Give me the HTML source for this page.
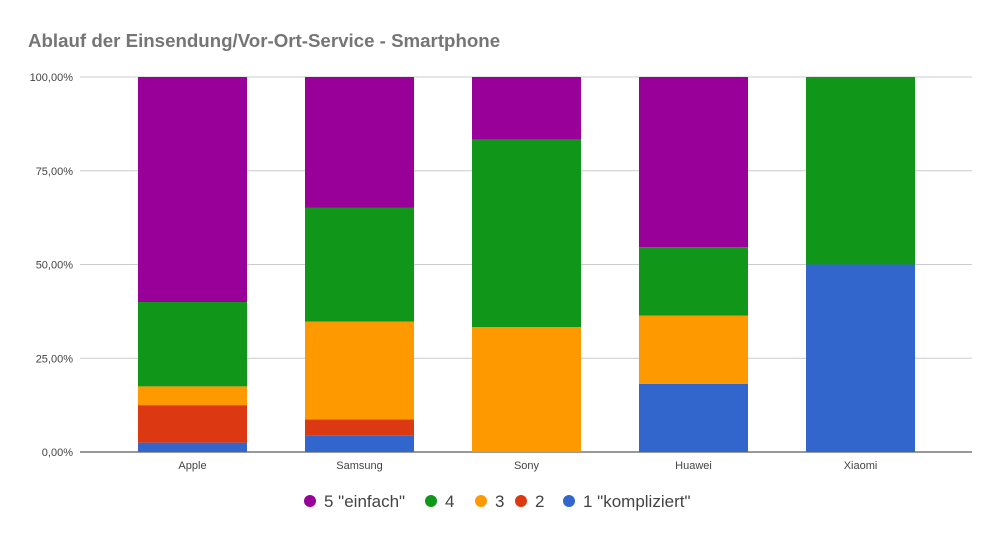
<!DOCTYPE html>
<html><head><meta charset="utf-8"><style>
body{margin:0;background:#fff;font-family:"Liberation Sans",Arial,sans-serif}
</style></head><body>
<svg id="chart" width="1000" height="540">
<rect width="1000" height="540" fill="#fff"/>
<text x="28" y="47" font-size="18.7" font-weight="bold" fill="#757575">Ablauf der Einsendung/Vor-Ort-Service - Smartphone</text>
<g id="grid"></g><g id="bars"></g><g id="xlabels"></g><g id="legend"></g>
</svg>
<script>
const categories=["Apple","Samsung","Sony","Huawei","Xiaomi"];
const s1=[2.5,4.35,0,18.2,50];
const s2=[10,4.35,0,0,0];
const s3=[5,26.1,33.3,18.2,0];
const s4=[22.5,30.4,50,18.2,50];
const s5=[60,34.8,16.7,45.4,0];
const tickValues=[0,25,50,75,100];
const tickLabels=["0,00%","25,00%","50,00%","75,00%","100,00%"];
const seriesNames=['1 "kompliziert"','2','3','4','5 "einfach"'];
const colors=["#3366cc","#dc3912","#ff9900","#109618","#990099"];
const series=[s1,s2,s3,s4,s5];
const NS="http://www.w3.org/2000/svg";
const y0=452,y1=77,xL=80,xR=972,bandStart=109,band=167,bw=109;
const y=v=>y0-(y0-y1)*v/100;
const xc=i=>bandStart+band*i+band/2;
function mk(t,a,p){const e=document.createElementNS(NS,t);for(const k in a)e.setAttribute(k,a[k]);p.appendChild(e);return e;}
const grid=document.getElementById('grid');
tickValues.forEach((v,i)=>{
 const l=mk('line',{x1:xL,x2:xR,y1:y(v),y2:y(v),stroke:i==0?'#333':'#ccc','stroke-width':1},grid);
 
 
 const t=mk('text',{x:73,y:y(v)+4,'text-anchor':'end','font-size':11,fill:'#444'},grid);
 t.textContent=tickLabels[i];
 
 
});
const bars=document.getElementById('bars');
categories.forEach((c,i)=>{
 let cum=0;
 series.forEach((s,k)=>{
  const v=s[i];if(v<=0)return;
  const r=mk('rect',{x:xc(i)-bw/2,y:y(cum+v),width:bw,height:y(cum)-y(cum+v),fill:colors[k]},bars);
  
  
  cum+=v;
 });
 const t=mk('text',{x:xc(i),y:469,'text-anchor':'middle','font-size':11,fill:'#444'},document.getElementById('xlabels'));
 t.textContent=c;
 
 
});
mk('line',{x1:xL,x2:xR,y1:y0,y2:y0,stroke:'#333'},grid);
const leg=document.getElementById('legend');
const order=[4,3,2,1,0];const lx=[304,425,475,515,563];
order.forEach((k,j)=>{
 const g=mk('g',{},leg);
 
 
 mk('circle',{cx:lx[j]+6,cy:501,r:6,fill:colors[k]},g);
 const t=mk('text',{x:lx[j]+20,y:507,'font-size':17,fill:'#444'},g);
 t.textContent=seriesNames[k];
});
</script>
</body></html>
